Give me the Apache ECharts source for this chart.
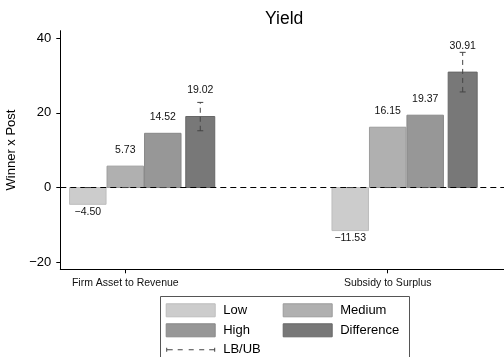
<!DOCTYPE html>
<html>
<head>
<meta charset="utf-8">
<script src="https://cdn.jsdelivr.net/npm/echarts@6/dist/echarts.min.js"></script>
<style>
  html, body { margin: 0; padding: 0; background: #fff; }
  #chart { width: 504px; height: 357px; }
</style>
</head>
<body>
<div id="chart"></div>
<script>
// Category groups along the x axis
const categories = ['Firm Asset to Revenue', 'Subsidy to Surplus'];

// Coefficients per tercile and their difference
const lowValues = [-4.50, -11.53];
const mediumValues = [5.73, 16.15];
const highValues = [14.52, 19.37];
const differenceValues = [19.02, 30.91];

// Confidence bounds (only the difference carries a real interval)
const lowBounds = [[0, 0], [0, 0]];
const mediumBounds = [[0, 0], [0, 0]];
const highBounds = [[0, 0], [0, 0]];
const differenceBounds = [[15.2, 22.8], [25.6, 36.2]];

// Y axis tick labels
const yTicks = [-20, 0, 20, 40];

const FONT = 'Liberation Sans, Arial, Helvetica, sans-serif';
const SLOT = 1 / 7;            // width of one bar in category units
const MINUS = '\u2212';
const fmt = v => (v < 0 ? MINUS : '') + Math.abs(v).toFixed(2);

const chart = echarts.init(document.getElementById('chart'), null, { renderer: 'canvas' });

function barRenderer(offset, width, labelGap) {
  return function (params, api) {
    const g = api.value(0), v = api.value(1);
    const a = api.coord([g + offset - width / 2, 0]);
    const b = api.coord([g + offset + width / 2, v]);
    const style = api.style();
    const top = Math.min(a[1], b[1]);
    const h = Math.abs(b[1] - a[1]);
    const cx = (a[0] + b[0]) / 2;
    const ly = v >= 0 ? b[1] - labelGap : b[1] + 7.5;
    return {
      type: 'group',
      children: [
        {
          type: 'rect',
          shape: { x: a[0] + 0.5, y: top, width: b[0] - a[0] - 1, height: h },
          style: { fill: style.fill, stroke: style.stroke, lineWidth: 1 }
        },
        {
          type: 'text',
          style: {
            x: cx, y: ly, text: fmt(v), align: 'center', verticalAlign: 'middle',
            fill: '#111', font: '10.5px ' + FONT
          },
          z2: 10
        }
      ]
    };
  };
}

function barSeries(name, values, offset, width, fill, stroke, labelGap) {
  return {
    name: name,
    type: 'custom',
    z: 3,
    itemStyle: { color: fill, borderColor: stroke, borderWidth: 1 },
    renderItem: barRenderer(offset, width, labelGap),
    encode: { x: 0, y: 1 },
    data: values.map((v, i) => [i, v])
  };
}

// Interval whiskers for every bar
const boundOffsets = [-SLOT, 0, SLOT, 2 * SLOT];
const boundSets = [lowBounds, mediumBounds, highBounds, differenceBounds];
const boundData = [];
boundSets.forEach((set, k) => set.forEach((b, i) => boundData.push([i, k, b[0], b[1]])));

const boundSeries = {
  name: 'LB/UB',
  type: 'custom',
  z: 5,
  itemStyle: { color: '#444' },
  encode: { x: 0, y: [2, 3] },
  renderItem: function (params, api) {
    const g = api.value(0), k = api.value(1);
    const x = g + boundOffsets[k];
    const lo = api.coord([x, api.value(2)]);
    const hi = api.coord([x, api.value(3)]);
    const cap = 3;
    const ls = { stroke: '#444', lineWidth: 1 };
    return {
      type: 'group',
      children: [
        { type: 'line', shape: { x1: lo[0], y1: lo[1], x2: hi[0], y2: hi[1] },
          style: Object.assign({ lineDash: [5, 4] }, ls) },
        { type: 'line', shape: { x1: hi[0] - cap, y1: hi[1], x2: hi[0] + cap, y2: hi[1] }, style: ls },
        { type: 'line', shape: { x1: lo[0] - cap, y1: lo[1], x2: lo[0] + cap, y2: lo[1] }, style: ls }
      ]
    };
  },
  data: boundData
};

// Zero reference line
const zeroLine = {
  name: 'zero',
  type: 'line',
  z: 1,
  silent: true,
  symbol: 'none',
  data: [],
  markLine: {
    silent: true,
    symbol: 'none',
    label: { show: false },
    lineStyle: { color: '#000', width: 1, type: [6, 4] },
    data: [{ yAxis: 0 }]
  }
};

const whiskerIcon = 'path://M0 4.5h1v4h-1z M0 6h6.5v1h-6.5z M11.5 6h5v1h-5z M22.5 6h5v1h-5z M33 6h5v1h-5z M43 6h6v1h-6z M48 4.5h1v4h-1z';

const legendText = { fontFamily: FONT, fontSize: 13, color: '#000', lineHeight: 13, padding: [0, 0, 0, 3] };

const option = {
  animation: false,
  backgroundColor: '#fff',
  title: {
    text: 'Yield',
    left: 260,
    top: 5,
    textStyle: { fontFamily: FONT, fontSize: 17.5, fontWeight: 'normal', color: '#000' }
  },
  grid: { left: 60.3, top: 30.7, right: 0, height: 238.6, containLabel: false, outerBoundsMode: 'none' },
  xAxis: {
    type: 'value',
    min: -0.2477,
    max: 1.4432,
    splitLine: { show: false },
    axisLine: { show: true, onZero: false, lineStyle: { color: '#000', width: 1 } },
    axisTick: { show: true, length: 4, lineStyle: { color: '#000' }, customValues: [0, 1] },
    axisLabel: {
      customValues: [0, 1],
      formatter: v => categories[Math.round(v)] || '',
      fontFamily: FONT, fontSize: 10.5, color: '#111', margin: 8
    }
  },
  yAxis: {
    type: 'value',
    min: -21.9,
    max: 42,
    name: 'Winner x Post',
    nameLocation: 'middle',
    nameGap: 34.5,
    nameTextStyle: { fontFamily: FONT, fontSize: 13, color: '#000' },
    splitLine: { show: false },
    axisLine: { show: true, onZero: false, lineStyle: { color: '#000', width: 1 } },
    axisTick: { show: true, length: 4, lineStyle: { color: '#000' }, customValues: yTicks },
    axisLabel: {
      customValues: yTicks,
      formatter: v => (v < 0 ? MINUS : '') + Math.abs(v),
      fontFamily: FONT, fontSize: 13, color: '#000', margin: 9
    }
  },
  legend: [
    {
      left: 165.7, top: 303.3, orient: 'vertical', padding: 0,
      itemWidth: 49, itemHeight: 13, itemGap: 6,
      textStyle: legendText, selectedMode: false,
      data: [
        { name: 'Low', icon: 'rect', itemStyle: { color: '#cccccc', borderColor: '#bdbdbd', borderWidth: 1 } },
        { name: 'High', icon: 'rect', itemStyle: { color: '#979797', borderColor: '#888888', borderWidth: 1 } },
        { name: 'LB/UB', icon: whiskerIcon, itemStyle: { color: '#444', borderWidth: 0 } }
      ]
    },
    {
      left: 282.7, top: 303.3, orient: 'vertical', padding: 0,
      itemWidth: 49, itemHeight: 13, itemGap: 6,
      textStyle: legendText, selectedMode: false,
      data: [
        { name: 'Medium', icon: 'rect', itemStyle: { color: '#b0b0b0', borderColor: '#9c9c9c', borderWidth: 1 } },
        { name: 'Difference', icon: 'rect', itemStyle: { color: '#787878', borderColor: '#676767', borderWidth: 1 } }
      ]
    }
  ],
  graphic: [
    {
      type: 'rect',
      z: -1,
      shape: { x: 160.5, y: 296.5, width: 249, height: 70 },
      style: { fill: '#fff', stroke: '#555', lineWidth: 1 }
    }
  ],
  series: [
    zeroLine,
    barSeries('Low', lowValues, -SLOT, SLOT, '#cccccc', '#bdbdbd', 16),
    barSeries('Medium', mediumValues, 0, SLOT, '#b0b0b0', '#9c9c9c', 16),
    barSeries('High', highValues, SLOT, SLOT, '#979797', '#888888', 16),
    barSeries('Difference', differenceValues, 2 * SLOT, 0.8 * SLOT, '#787878', '#676767', 26),
    boundSeries
  ]
};

chart.setOption(option);
</script>
</body>
</html>
